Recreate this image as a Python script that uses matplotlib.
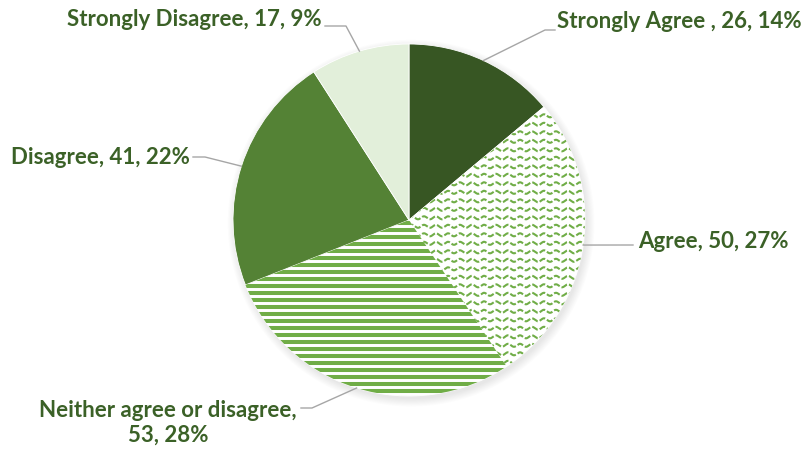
import numpy as np
import matplotlib.pyplot as plt
from matplotlib.patches import Circle

# survey answers
categories = ['Strongly Agree ', 'Agree', 'Neither agree or disagree', 'Disagree', 'Strongly Disagree']
counts = [26, 50, 53, 41, 17]
percents = [14, 27, 28, 22, 9]

colors = ['#375623', '#ffffff', '#ffffff', '#548235', '#e2efda']
pattern_green = '#70ad47'
text_color = '#3b6127'
line_color = '#a6a6a6'

W, H = 812, 449
CX, CY, R = 409, 220, 176


def px(x, y):
    # pixel position -> data units (pie radius = 1)
    return (x - CX) / R, (CY - y) / R


fig = plt.figure(figsize=(W / 100, H / 100), dpi=100)
ax = fig.add_axes([0, 0, 1, 1])
x0, y1 = px(0, 0)
x1, y0 = px(W, H)

# soft shadow under the pie
for k in range(8):
    sh = Circle((0.012, -0.018), 1.0 + k * 0.006, color='black', alpha=0.012, zorder=0, lw=0)
    ax.add_patch(sh)

wedges, _ = ax.pie(counts, colors=colors, startangle=90, counterclock=False,
                   radius=1, center=(0, 0), frame=True,
                   wedgeprops=dict(edgecolor='white', linewidth=0.6))
ax.set_xlim(x0, x1)
ax.set_ylim(y0, y1)
ax.set_aspect('auto')
ax.axis('off')

# wavy dashed pattern on "Agree"
xs = np.linspace(-1.05, 1.05, 1500)
for yy in np.arange(-1.05, 1.05, 8.5 / R):
    ln, = ax.plot(xs, yy + (1.5 / R) * np.sin(xs * R * 2 * np.pi / 12), color=pattern_green,
                  lw=1.5, ls=(0, (3.0, 1.0)), zorder=3)
    ln.set_clip_path(wedges[1])

# horizontal stripes on "Neither"
for yy in np.arange(-1.05, 1.05, 7 / R):
    ln, = ax.plot([-1.05, 1.05], [yy, yy], color=pattern_green, lw=2.9, zorder=3,
                  solid_capstyle='butt')
    ln.set_clip_path(wedges[2])

# labels with leader lines
total = sum(counts)
label_pos = [
    ((557, 22), 'left', [(555, 30), (545, 30)]),
    ((638, 242), 'left', [(633, 245)]),
    ((168, 423), 'center', [(301, 408), (312, 408)]),
    ((190, 157), 'right', [(193, 157), (205, 157)]),
    ((322, 20), 'right', [(325, 26), (346, 26)]),
]
cum = 0
for i, (cat, n, p) in enumerate(zip(categories, counts, percents)):
    mid = (cum + n / 2) / total * 2 * np.pi
    cum += n
    ex, ey = np.sin(mid), np.cos(mid)
    (tx, ty), ha, elbow = label_pos[i]
    pts = [px(*e) for e in elbow] + [(ex, ey)]
    ax.plot([q[0] for q in pts], [q[1] for q in pts], color=line_color, lw=1, zorder=1)
    if i == 2:
        txt = f'{cat},\n{n}, {p}%'
    else:
        txt = f'{cat}, {n}, {p}%'
    ax.text(*px(tx, ty), txt, ha=ha, va='center', multialignment='center',
            fontsize=16, fontweight='bold', family='Lato', color=text_color,
            linespacing=1.2)

fig.savefig('out.png', dpi=100)
